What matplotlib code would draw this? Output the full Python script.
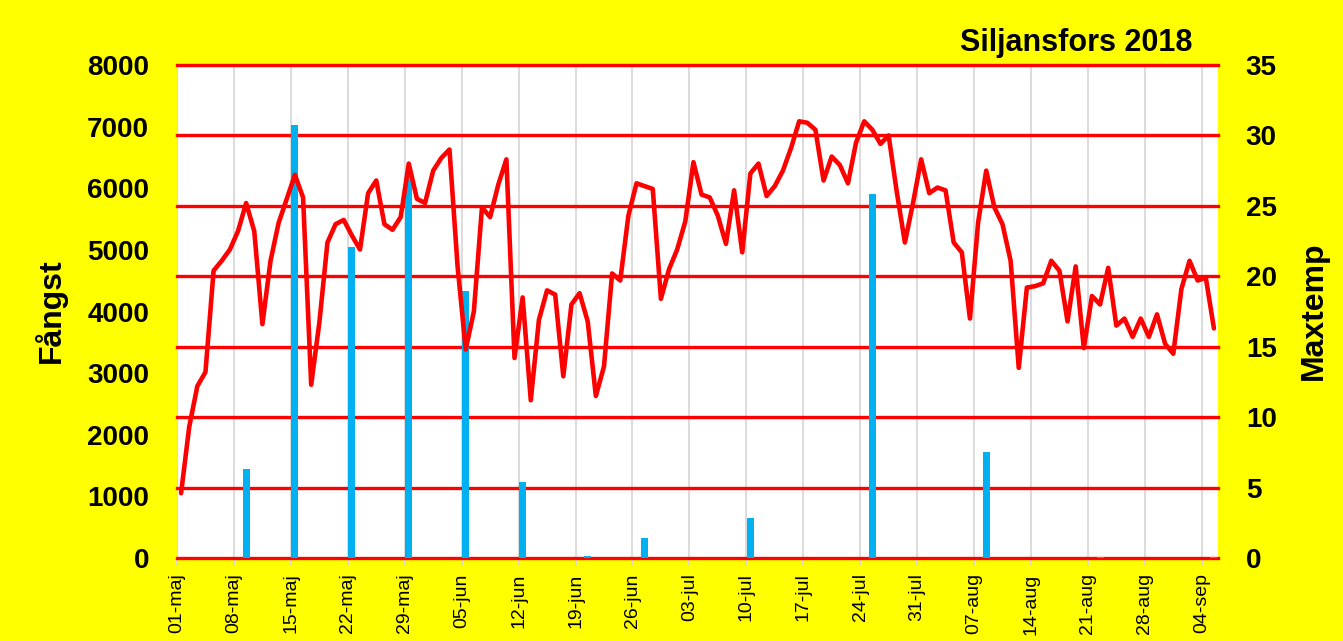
import datetime as dt
import numpy as np
import matplotlib
matplotlib.use("Agg")
import matplotlib.pyplot as plt
from matplotlib.ticker import MultipleLocator, FixedLocator

plt.rcParams['font.family'] = ['Liberation Sans', 'DejaVu Sans']

# ---------------- data ----------------
start_date = dt.date(2018, 5, 1)
month_names = {5: 'maj', 6: 'jun', 7: 'jul', 8: 'aug', 9: 'sep'}

maxtemp = [
    4.6, 9.3, 12.2, 13.2, 20.4, 21.1, 21.9, 23.2, 25.2, 23.2,
    16.6, 21.1, 23.8, 25.5, 27.2, 25.6, 12.3, 16.7, 22.4, 23.7,
    24.0, 22.9, 21.9, 25.9, 26.8, 23.7, 23.3, 24.2, 28.0, 25.5,
    25.2, 27.5, 28.4, 29.0, 20.7, 14.8, 17.5, 24.9, 24.2, 26.5,
    28.3, 14.2, 18.5, 11.2, 16.9, 19.0, 18.7, 12.9, 18.0, 18.8,
    16.8, 11.5, 13.6, 20.2, 19.7, 24.3, 26.6, 26.4, 26.2, 18.4,
    20.5, 21.9, 23.9, 28.1, 25.8, 25.6, 24.3, 22.3, 26.1, 21.7,
    27.3, 28.0, 25.7, 26.4, 27.5, 29.1, 31.0, 30.9, 30.4, 26.8,
    28.5, 27.9, 26.6, 29.5, 31.0, 30.4, 29.4, 30.0, 26.0, 22.4,
    25.2, 28.3, 25.9, 26.3, 26.1, 22.4, 21.7, 17.0, 23.8, 27.5,
    24.9, 23.7, 21.1, 13.5, 19.2, 19.3, 19.5, 21.1, 20.4, 16.8,
    20.7, 14.9, 18.6, 18.0, 20.6, 16.5, 17.0, 15.7, 17.0, 15.7,
    17.3, 15.2, 14.5, 19.1, 21.1, 19.7, 19.9, 16.3,
]

catch_dates = ['09-maj', '15-maj', '22-maj', '29-maj', '05-jun', '12-jun',
               '20-jun', '27-jun', '10-jul', '25-jul', '08-aug', '22-aug',
               '05-sep']
catch_values = [1440, 7030, 5050, 6200, 4330, 1230, 40, 320, 650, 5910,
                1720, 20, 20]

title_text = 'Siljansfors 2018'
left_label = 'Fångst'
right_label = 'Maxtemp'

# ---------------- derived ----------------
dates = [start_date + dt.timedelta(days=d) for d in range(len(maxtemp))]
date_labels = [f"{d.day:02d}-{month_names[d.month]}" for d in dates]
index_of = {lab: i for i, lab in enumerate(date_labels)}
x_line = np.arange(len(maxtemp)) + 0.5
x_bars = [index_of[d] + 0.5 for d in catch_dates]
tick_pos = list(range(0, len(maxtemp), 7))
tick_lab = [date_labels[i] for i in tick_pos]

W, H = 1343, 641
fig = plt.figure(figsize=(W / 100, H / 100), dpi=100, facecolor='#FFFF00')
ax = fig.add_axes([177 / W, 1 - 558 / H, (1218 - 177) / W, (558 - 65) / H])
ax.set_facecolor('white')

ax.bar(x_bars, catch_values, width=0.85, color='#00B0F0', zorder=2)
ax.set_xlim(0, len(maxtemp))
ax.set_ylim(0, 8000)

ax.yaxis.remove_overlapping_locs = False
ax.yaxis.set_major_locator(MultipleLocator(1000))
ax.yaxis.set_minor_locator(FixedLocator(np.linspace(0, 8000, 8)))
ax.grid(which='minor', axis='y', color='#FF0000', lw=2.4)
for t in ax.yaxis.get_minor_ticks():
    t.gridline.set_clip_on(False)
ax.set_xticks(tick_pos)
ax.set_xticklabels(tick_lab)
ax.grid(which='major', axis='x', color='#D9D9D9', lw=1.3)
ax.set_axisbelow(True)

ax.tick_params(axis='y', which='minor', length=0)
ax.tick_params(axis='y', which='major', length=0, pad=20, labelsize=20)
ax.tick_params(axis='x', length=6, color='#D9D9D9', width=1.3,
               labelrotation=90, labelsize=14, pad=5)
plt.setp(ax.get_yticklabels(), fontweight='bold')
for s in ['left', 'right', 'top', 'bottom']:
    ax.spines[s].set_visible(False)

ax2 = ax.twinx()
ax2.plot(x_line, maxtemp, color='#FF0000', lw=3.3,
         solid_joinstyle='round', solid_capstyle='round', zorder=3)
ax2.set_ylim(0, 35)
ax2.yaxis.set_major_locator(MultipleLocator(5))
ax2.tick_params(axis='y', length=0, pad=20, labelsize=20)
plt.setp(ax2.get_yticklabels(), fontweight='bold')
for s in ['left', 'right', 'top', 'bottom']:
    ax2.spines[s].set_visible(False)

fig.text(1193 / W, 1 - 43 / H, title_text, ha='right', va='center',
         fontsize=22, fontweight='bold')
fig.text(50 / W, 1 - 311 / H, left_label, rotation=90, ha='center',
         va='center', fontsize=23, fontweight='bold')
fig.text(1314 / W, 1 - 311 / H, right_label, rotation=90, ha='center',
         va='center', fontsize=23, fontweight='bold')

fig.savefig('out.png', dpi=100, facecolor=fig.get_facecolor())
